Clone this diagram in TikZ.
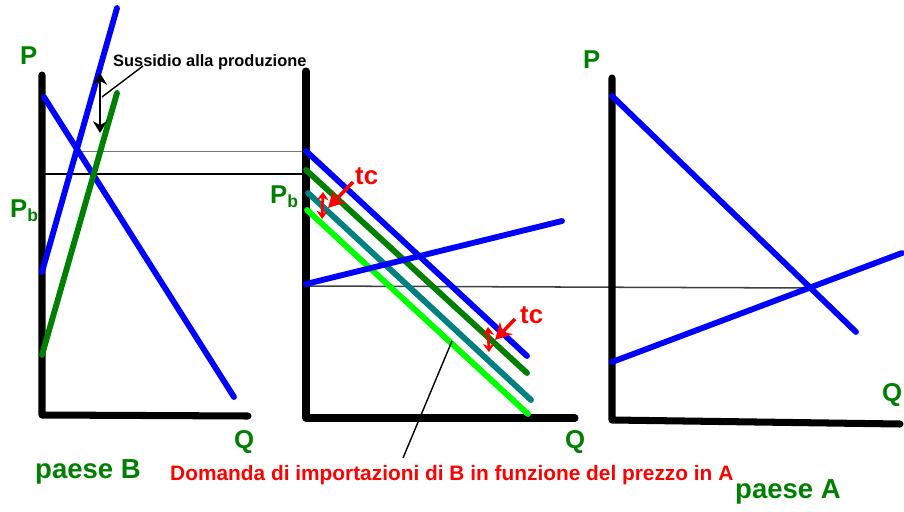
\documentclass[tikz,border=0pt]{standalone}
\usepackage{fontspec}
\setmainfont{Liberation Sans}
\usetikzlibrary{arrows.meta}
\definecolor{verdescuro}{RGB}{0,128,0}
\definecolor{verdeacqua}{RGB}{0,128,128}
\definecolor{verdechiaro}{RGB}{0,255,0}
\newcommand{\prezzob}{P\raisebox{-0.35ex}{\fontsize{15}{15}\selectfont b}}
\tikzset{
  /tikz/.cd,
  asse/.style={line width=6pt,line cap=round,line join=round},
  curva/.style={line width=5pt,line cap=round},
  etichetta/.style={anchor=base west,inner sep=0pt,text=verdescuro,font=\bfseries\fontsize{22}{24}\selectfont}
}

\begin{document}
\begin{tikzpicture}[x=0.03cm,y=-0.03cm,
                    guida/.style={line width=1.3pt},
                    freccia/.style={line width=3pt,red,-{Stealth[length=14pt,width=15pt]}},
                    scarto/.style={line width=2.4pt,red,{Stealth[length=7pt,width=10pt]}-{Stealth[length=7pt,width=10pt]}}]
      \useasboundingbox (0,0) rectangle (904,512);

      \draw[guida,black!55,line width=0.8pt] (75,151) -- (306,151);
      \draw[guida] (43,174) -- (306,174);
      \draw[guida,black!75] (306,286) -- (810,288);

      \draw[asse] (42,75) -- (42,415) -- (248,416);
      \draw[curva,blue] (44,97) -- (234,397);
      \draw[curva,blue] (42,272) -- (117,8);
      \draw[curva,verdescuro] (42,355) -- (117,93);

      \draw[asse] (306,71) -- (306,418) -- (575,418);
      \draw[curva,blue] (306,151) -- (527,356);
      \draw[curva,verdescuro] (306,170) -- (527,373);
      \draw[curva,verdeacqua] (308,193) -- (531,400);
      \draw[curva,verdechiaro] (307,210) -- (528,414);
      \draw[curva,blue] (306,284) -- (562,221);

      \draw[asse] (612,78) -- (612,420) -- (900,424);
      \draw[curva,blue] (612,96) -- (856,332);
      \draw[curva,blue] (612,362) -- (902,253);

      \node[etichetta] (pB) at (20,65) {P};
      \node[etichetta] (pbB) at (10,217) {\prezzob};
      \node[etichetta] (qB) at (234,448) {Q};
      \node[etichetta,font=\bfseries\fontsize{23.5}{25}\selectfont] (paeseB) at (35,478) {paese B};

      \node[etichetta] (pbM) at (270,203) {\prezzob};
      \node[etichetta] (qM) at (565,448) {Q};

      \node[etichetta] (pA) at (583,69) {P};
      \node[etichetta] (qA) at (882,401) {Q};
      \node[etichetta,font=\bfseries\fontsize{23.5}{25}\selectfont] (paeseA) at (735,498) {paese A};

      \node[anchor=base west,inner sep=0pt,font=\bfseries\fontsize{14}{16}\selectfont] (sussidio) at (113,67) {Sussidio alla produzione};
      \draw[{Stealth[length=10pt,width=12pt]}-{Stealth[length=10pt,width=12pt]},line width=1.8pt] (100,73) -- (100,133);
      \coordinate (sussidioPunto) at (143,66);
      \coordinate (sussidioFreccia) at (102,97);
      \draw[line width=1.2pt] (sussidioPunto) -- (sussidioFreccia);

      \node[anchor=base west,inner sep=0pt,text=red,font=\bfseries\fontsize{17.8}{19}\selectfont] (domanda) at (170,480) {Domanda di importazioni di B in funzione del prezzo in A};
      \coordinate (domandaPunto) at (403,458);
      \coordinate (domandaCurva) at (452,341);
      \draw[line width=1.2pt] (domandaPunto) -- (domandaCurva);

      \node[anchor=base west,inner sep=0pt,text=red,font=\bfseries\fontsize{22}{24}\selectfont] (tcSu) at (355,185) {tc};
      \coordinate (tcSuPunta) at (328,208);
      \draw[freccia] (353,182) -- (tcSuPunta);
      \draw[scarto] (323,192) -- (322,219);

      \node[anchor=base west,inner sep=0pt,text=red,font=\bfseries\fontsize{22}{24}\selectfont] (tcGiu) at (520,323) {tc};
      \coordinate (tcGiuPunta) at (495,340);
      \draw[freccia] (515,319) -- (tcGiuPunta);
      \draw[scarto] (488,327) -- (489,352);
    \end{tikzpicture}
\end{document}
